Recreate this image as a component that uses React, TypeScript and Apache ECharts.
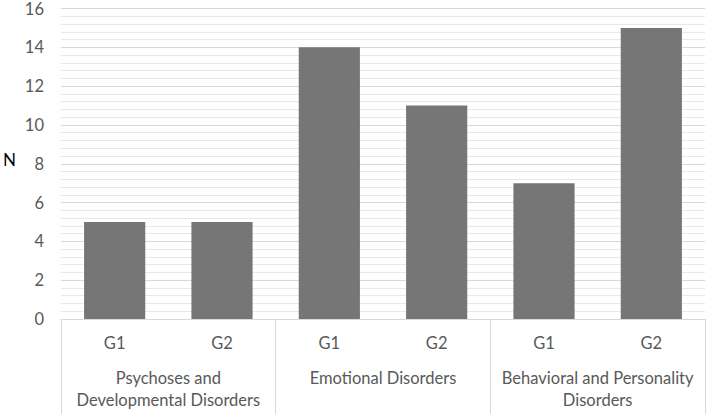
import React, { useEffect, useRef } from "react";
import * as echarts from "echarts";

const subCategories = ["G1", "G2", "G1", "G2", "G1", "G2"];
const groupCategories = [
  "Psychoses and\nDevelopmental Disorders",
  "Emotional Disorders",
  "Behavioral and Personality\nDisorders",
];
const values = [5, 5, 14, 11, 7, 15];
const yTicks = { min: 0, max: 16, interval: 2 };

const FONT = "Lato";
const TEXT = "#595959";

export default function App() {
  const ref = useRef<HTMLDivElement>(null);
  useEffect(() => {
    if (!ref.current) return;
    const chart = echarts.init(ref.current, undefined, { renderer: "svg" });
    chart.setOption({
      animation: false,
      textStyle: { fontFamily: FONT },
      grid: { left: 61, right: 3, top: 8, bottom: 95 },
      graphic: [
        {
          type: "text",
          left: 3,
          top: 151,
          style: { text: "N", fill: "#000", fontSize: 17, fontFamily: FONT },
        },
      ],
      xAxis: [
        {
          type: "category",
          data: subCategories,
          position: "bottom",
          offset: 0,
          axisLine: { lineStyle: { color: "#d9d9d9", width: 1 } },
          axisTick: { show: false },
          axisLabel: { color: TEXT, fontSize: 16.5, margin: 15, fontFamily: FONT },
        },
        {
          type: "category",
          data: groupCategories,
          position: "bottom",
          offset: 0,
          axisLine: { show: false },
          axisTick: { show: true, length: 95, lineStyle: { color: "#d9d9d9" } },
          axisLabel: {
            color: TEXT,
            fontSize: 16.5,
            lineHeight: 22,
            margin: 48,
            fontFamily: FONT,
            interval: 0,
          },
        },
      ],
      yAxis: {
        type: "value",
        min: yTicks.min,
        max: yTicks.max,
        interval: yTicks.interval,
        axisLine: { show: false },
        axisTick: { show: false },
        axisLabel: { color: TEXT, fontSize: 16.5, margin: 17, fontFamily: FONT },
        splitLine: { lineStyle: { color: "#d9d9d9", width: 1 } },
        minorTick: { show: false, splitNumber: 5 },
        minorSplitLine: { show: true, lineStyle: { color: "#e8e8e8", width: 1 } },
      },
      series: [
        {
          type: "bar",
          data: values,
          xAxisIndex: 0,
          barCategoryGap: "43%",
          itemStyle: { color: "#767676" },
        },
      ],
    });
    return () => chart.dispose();
  }, []);
  return (
    <div
      ref={ref}
      style={{ position: "absolute", left: 0, top: 0, width: 708, height: 414 }}
    />
  );
}
